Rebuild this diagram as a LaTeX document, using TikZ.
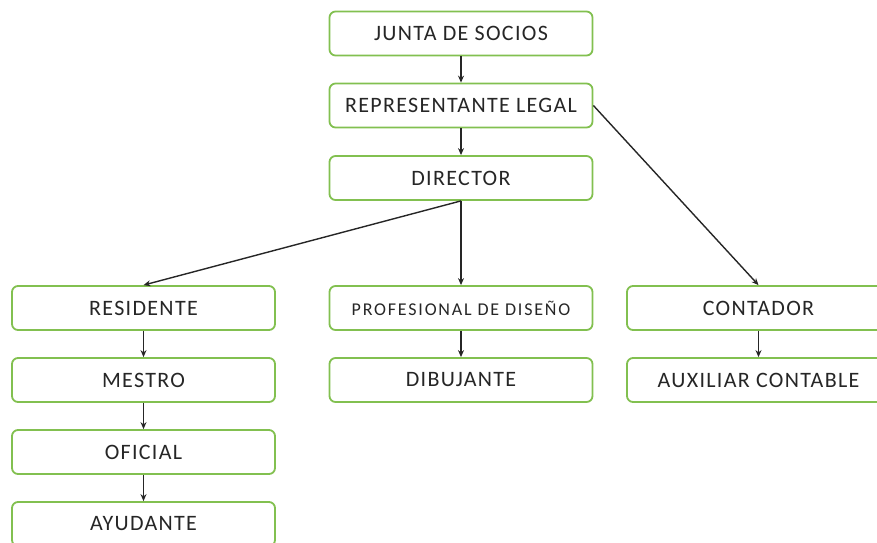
\documentclass[tikz,border=0pt]{standalone}
\usepackage{fontspec}
\setmainfont{Carlito}
\newfontfamily\spacedfont[LetterSpace=6]{Carlito}
\newfontfamily\narrowfont[LetterSpace=10]{Carlito}
\usetikzlibrary{arrows.meta}
\definecolor{boxgreen}{RGB}{130,192,80}
\tikzset{
  orgbox/.style={draw=boxgreen, line width=1.8pt, rounded corners=6pt, fill=white,
    minimum width=263pt, minimum height=44pt, inner sep=0pt,
    font=\spacedfont\fontsize{22}{26}\selectfont, text=black!85},
  link/.style={draw=black!85, line width=1.4pt, -{Stealth[length=7pt,width=6pt]}}
}
\begin{document}
\begin{tikzpicture}[x=1pt,y=-1pt]
\useasboundingbox (0,0) rectangle (877,542);
\clip (0,0) rectangle (877,542);
\node[orgbox] (junta) at (461,33.5) {JUNTA DE SOCIOS};
\node[orgbox] (rep) at (461,105.5) {REPRESENTANTE LEGAL};
\node[orgbox] (dir) at (461,178) {DIRECTOR};
\node[orgbox] (res) at (143.5,308) {RESIDENTE};
\node[orgbox] (mes) at (143.5,380) {MESTRO};
\node[orgbox] (ofi) at (143.5,452) {OFICIAL};
\node[orgbox] (ayu) at (143.5,524) {AYUDANTE};
\node[orgbox, font=\narrowfont\fontsize{18}{21}\selectfont] (pro) at (461,308) {PROFESIONAL DE DISEÑO};
\node[orgbox] (dib) at (461,380) {DIBUJANTE};
\node[orgbox] (con) at (758.5,308) {CONTADOR};
\node[orgbox] (aux) at (758.5,380) {AUXILIAR CONTABLE};
\draw[link] (junta) -- (rep);
\draw[link] (rep) -- (dir);
\draw[link] (dir.south) -- (res.north);
\draw[link] (dir) -- (pro);
\draw[link] (rep.east) -- (con.north);
\draw[link] (res) -- (mes);
\draw[link] (mes) -- (ofi);
\draw[link] (ofi) -- (ayu);
\draw[link] (pro) -- (dib);
\draw[link] (con) -- (aux);
\end{tikzpicture}
\end{document}
